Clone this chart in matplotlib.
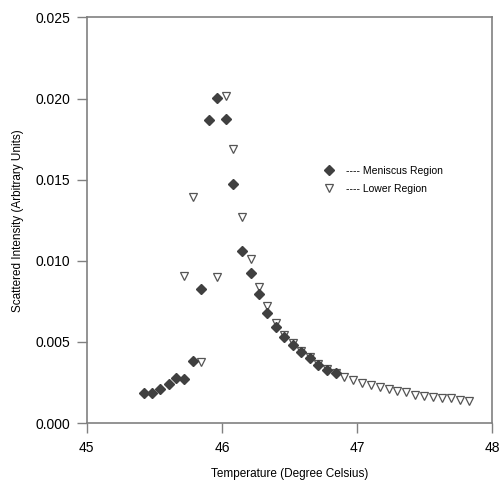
import numpy as np
import matplotlib
matplotlib.use('Agg')
import matplotlib.pyplot as plt

plt.rcParams['font.family'] = ['Liberation Sans', 'DejaVu Sans']

# meniscus region (filled diamonds)
men_t = [45.420, 45.481, 45.543, 45.605, 45.662, 45.723, 45.783, 45.844,
         45.906, 45.965, 46.027, 46.086, 46.148, 46.212, 46.274, 46.336,
         46.400, 46.462, 46.526, 46.588, 46.652, 46.714, 46.775, 46.842]
men_i = [0.00184, 0.00184, 0.00209, 0.00242, 0.00275, 0.00273, 0.00383, 0.00824,
         0.01865, 0.02006, 0.01871, 0.01475, 0.01061, 0.00922, 0.00793, 0.00676,
         0.00594, 0.00533, 0.00482, 0.00439, 0.00402, 0.00361, 0.00328, 0.00307]

# lower region (open triangles)
low_t = [45.721, 45.783, 45.842, 45.965, 46.027, 46.086, 46.148, 46.212,
         46.274, 46.336, 46.400, 46.462, 46.526, 46.588, 46.652, 46.714,
         46.775, 46.842, 46.906, 46.973, 47.037, 47.104, 47.168, 47.235,
         47.299, 47.365, 47.432, 47.499, 47.563, 47.630, 47.696, 47.765, 47.830]
low_i = [0.00906, 0.01393, 0.00379, 0.00900, 0.02018, 0.01691, 0.01270, 0.01014,
         0.00836, 0.00721, 0.00619, 0.00543, 0.00492, 0.00447, 0.00405, 0.00364,
         0.00331, 0.00309, 0.00287, 0.00266, 0.00250, 0.00232, 0.00221, 0.00209,
         0.00197, 0.00189, 0.00174, 0.00168, 0.00160, 0.00156, 0.00154, 0.00143, 0.00135]

fig = plt.figure(figsize=(5.02, 4.83), dpi=100)
ax = fig.add_axes([0.173, 0.124, 0.807, 0.840])

ax.plot(low_t, low_i, 'v', ms=5.5, mfc='white', mec='#555555', mew=0.9,
        label='---- Lower Region', zorder=2)
ax.plot(men_t, men_i, 'D', ms=5.2, mfc='#404040', mec='#404040',
        label='---- Meniscus Region', zorder=3)

ax.set_xlim(45, 48)
ax.set_ylim(0, 0.025)
ax.set_xticks([45, 46, 47, 48])
ax.set_yticks(np.arange(0, 0.0251, 0.005))
ax.yaxis.set_major_formatter(matplotlib.ticker.FormatStrFormatter('%.3f'))
ax.tick_params(direction='out', length=7, width=1, color='#808080',
               labelsize=10, pad=5)
ax.tick_params(axis='x', pad=6)
for s in ax.spines.values():
    s.set_color('#808080')
    s.set_linewidth(1.2)

ax.set_xlabel('Temperature (Degree Celsius)', fontsize=8.5, labelpad=9)
ax.set_ylabel('Scattered Intensity (Arbitrary Units)', fontsize=8.5, labelpad=8)

h, l = ax.get_legend_handles_labels()
ax.legend(h[::-1], l[::-1], loc='center left', bbox_to_anchor=(0.56, 0.60),
          frameon=False, fontsize=7.5, handletextpad=1.0, labelspacing=0.75,
          handlelength=1.2)

fig.savefig('out.png', dpi=100)
